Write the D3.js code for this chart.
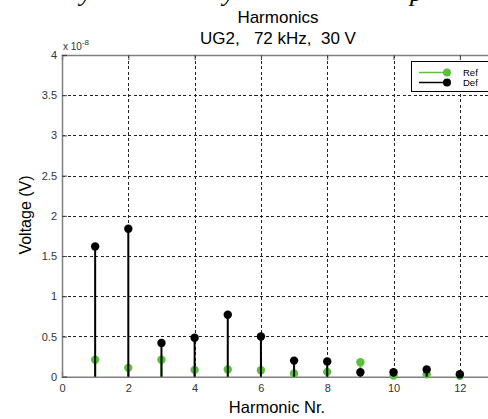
<!DOCTYPE html>
<html>
<head>
<meta charset="utf-8">
<script src="https://cdn.jsdelivr.net/npm/d3@7"></script>
<style>
  body { margin: 0; background: #fff; }
  svg { display: block; font-family: Arial, "Liberation Sans", sans-serif; }
  .grid line { stroke: #222; stroke-width: 1; stroke-dasharray: 3,2.5; shape-rendering: crispEdges; }
  .tick text { fill: #333; font-size: 11px; }
</style>
</head>
<body>
<script>
//harmonic stem plot, Ref vs Def

//data (values in units of 1e-8 V)
var harmonics = [1, 2, 3, 4, 5, 6, 7, 8, 9, 10, 11, 12];
var refValues = [0.21, 0.11, 0.21, 0.085, 0.09, 0.08, 0.04, 0.06, 0.18, 0.015, 0.03, 0.01];
var defValues = [1.62, 1.84, 0.42, 0.485, 0.77, 0.50, 0.20, 0.19, 0.055, 0.055, 0.09, 0.03];
var xTicks = [0, 2, 4, 6, 8, 10, 12];
var yTicks = [0, 0.5, 1, 1.5, 2, 2.5, 3, 3.5, 4];
var titleLines = ["Harmonics", "UG2,   72 kHz,  30 V"];
var seriesNames = ["Ref", "Def"];
var seriesColors = ["#5cbf3f", "#000000"];
//bits of the document caption cut off at the top edge
var captionBits = ["y", "y", "p"];

var width = 488, height = 419;

var svg = d3.select("body")
    .append("svg")
    .attr("width", width)
    .attr("height", height);

//scales
var x = d3.scaleLinear().domain([0, 13]).range([62, 493]);
var y = d3.scaleLinear().domain([0, 4]).range([376.7, 55]);

//caption leftovers
svg.selectAll(".capBit")
    .data(captionBits)
    .enter()
    .append("text")
    .attr("class", "capBit")
    .attr("x", function(d, i){ return [80, 223, 410][i]; })
    .attr("y", 1)
    .style("font-family", "'Liberation Serif', 'DejaVu Serif', serif")
    .style("font-style", "italic")
    .style("font-size", "26px")
    .text(function(d){ return d; });

//grid lines
var grid = svg.append("g").attr("class", "grid");
grid.selectAll(".vgrid")
    .data(xTicks.filter(function(d){ return d > 0; }))
    .enter()
    .append("line")
    .attr("x1", function(d){ return Math.round(x(d)) + 0.5; })
    .attr("x2", function(d){ return Math.round(x(d)) + 0.5; })
    .attr("y1", y(4))
    .attr("y2", y(0));
grid.selectAll(".hgrid")
    .data(yTicks.filter(function(d){ return d > 0 && d < 4; }))
    .enter()
    .append("line")
    .attr("x1", x(0))
    .attr("x2", x(13))
    .attr("y1", function(d){ return Math.round(y(d)) + 0.5; })
    .attr("y2", function(d){ return Math.round(y(d)) + 0.5; });

//axes
var xAxis = d3.axisBottom(x).tickValues(xTicks).tickSize(-5).tickPadding(8);
var xTop = d3.axisTop(x).tickValues(xTicks).tickSize(-5).tickFormat("");
var yAxis = d3.axisLeft(y).tickValues(yTicks).tickSize(-5).tickPadding(5).tickFormat(d3.format("~g"));

[
  svg.append("g").attr("transform", "translate(0," + y(0) + ")").call(xAxis),
  svg.append("g").attr("transform", "translate(0," + y(4) + ")").call(xTop),
  svg.append("g").attr("transform", "translate(" + x(0) + ",0)").call(yAxis)
].forEach(function(g){
    g.select(".domain").attr("stroke", "#808080").attr("stroke-width", 1.5);
    g.selectAll(".tick line").attr("stroke", "#444");
});

//stems: Ref first, Def on top
var series = [refValues, defValues];
series.forEach(function(vals, s){
    var grp = svg.append("g").attr("class", "series" + s);
    grp.selectAll("line")
        .data(harmonics)
        .enter()
        .append("line")
        .attr("x1", function(d){ return x(d); })
        .attr("x2", function(d){ return x(d); })
        .attr("y1", y(0))
        .attr("y2", function(d, i){ return y(vals[i]); })
        .attr("stroke", seriesColors[s])
        .attr("stroke-width", 2);
    grp.selectAll("circle")
        .data(harmonics)
        .enter()
        .append("circle")
        .attr("cx", function(d){ return x(d); })
        .attr("cy", function(d, i){ return y(vals[i]); })
        .attr("r", 4.2)
        .attr("fill", seriesColors[s]);
});

//exponent label
var expo = svg.append("text")
    .attr("x", 63)
    .attr("y", 50)
    .style("font-size", "10px")
    .style("fill", "#333");
expo.append("tspan").text("x 10");
expo.append("tspan").attr("dy", -5).style("font-size", "8px").text("-8");

//titles
svg.selectAll(".title")
    .data(titleLines)
    .enter()
    .append("text")
    .attr("class", "title")
    .attr("x", 278)
    .attr("y", function(d, i){ return 23 + i * 21; })
    .attr("text-anchor", "middle")
    .style("font-size", "17px")
    .style("white-space", "pre")
    .text(function(d){ return d; });

//axis labels
svg.append("text")
    .attr("x", 277)
    .attr("y", 413)
    .attr("text-anchor", "middle")
    .style("font-size", "16.5px")
    .text("Harmonic Nr.");
svg.append("text")
    .attr("transform", "translate(31,215) rotate(-90)")
    .attr("text-anchor", "middle")
    .style("font-size", "16px")
    .text("Voltage (V)");

//legend
var legend = svg.append("g").attr("class", "legend");
legend.append("rect")
    .attr("x", 411.5)
    .attr("y", 61.5)
    .attr("width", 90)
    .attr("height", 30)
    .attr("fill", "#fff")
    .attr("stroke", "#000");
seriesNames.forEach(function(name, i){
    var ly = 72.5 + i * 10;
    legend.append("line")
        .attr("x1", 419).attr("x2", 447)
        .attr("y1", ly).attr("y2", ly)
        .attr("stroke", seriesColors[i])
        .attr("stroke-width", 1.5);
    legend.append("circle")
        .attr("cx", 447).attr("cy", ly).attr("r", 4)
        .attr("fill", seriesColors[i]);
    legend.append("text")
        .attr("x", 463)
        .attr("y", ly + 3.5)
        .style("font-size", "9.5px")
        .text(name);
});
</script>
</body>
</html>
